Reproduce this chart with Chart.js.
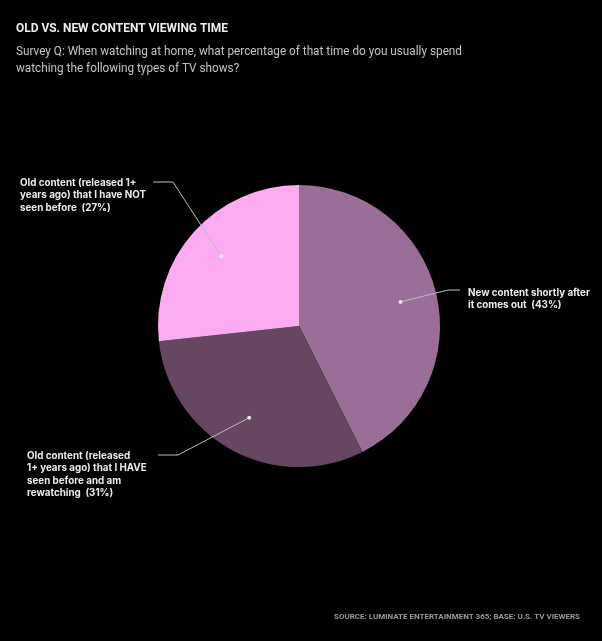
<!DOCTYPE html>
<html><head><meta charset="utf-8">
<script src="https://cdn.jsdelivr.net/npm/chart.js@4"></script>
<style>html,body{margin:0;padding:0;background:#000;}#wrap{position:relative;width:602px;height:641px;}</style>
</head><body><div id="wrap"><canvas id="c" width="602" height="641"></canvas></div>
<script>
const categories = [
  "New content shortly after it comes out",
  "Old content (released 1+ years ago) that I HAVE seen before and am rewatching",
  "Old content (released 1+ years ago) that I have NOT seen before"
];
const values = [43, 31, 27];
const labelLines = [
  ["New content shortly after", "it comes out  (43%)"],
  ["Old content (released", "1+ years ago) that I HAVE", "seen before and am", "rewatching  (31%)"],
  ["Old content (released 1+", "years ago) that I have NOT", "seen before  (27%)"]
];
const colors = ["#9a6e96", "#664660", "#fcaaf1"];
const title = "OLD VS. NEW CONTENT VIEWING TIME";
const subtitle = ["Survey Q: When watching at home, what percentage of that time do you usually spend", "watching the following types of TV shows?"];
const source = "SOURCE: LUMINATE ENTERTAINMENT 365; BASE: U.S. TV VIEWERS";

const labelLayout = [
  {elbow:[448,290], end:[460,290], tx:468, ty:293, align:'left'},
  {elbow:[178,455], end:[158,455], tx:27, ty:456, align:'left'},
  {elbow:[173,182], end:[153,182], tx:20, ty:183, align:'left'}
];

function fitText(ctx, text, x, y, font, targetW) {
  ctx.font = font;
  const w = ctx.measureText(text).width;
  ctx.save();
  ctx.translate(x, y);
  ctx.scale(targetW / w, 1);
  ctx.fillText(text, 0, 0);
  ctx.restore();
}

const textPlugin = {
  id: 'texts',
  afterDraw(chart) {
    const ctx = chart.ctx;
    ctx.save();
    ctx.textBaseline = 'middle';
    ctx.textAlign = 'left';
    ctx.fillStyle = '#ededed';
    fitText(ctx, title, 16, 29, 'bold 12.5px Roboto', 212);
    ctx.fillStyle = '#c4c4c4';
    fitText(ctx, subtitle[0], 16, 52, '12.5px Roboto', 446);
    ctx.font = '12.5px Roboto';
    const s0 = ctx.measureText(subtitle[0]).width;
    ctx.save();
    ctx.translate(16, 69);
    ctx.scale(446 / s0, 1);
    ctx.fillText(subtitle[1], 0, 0);
    ctx.restore();
    ctx.fillStyle = '#9a9a9a';
    fitText(ctx, source, 334, 617, 'bold 8px Roboto', 246);

    const meta = chart.getDatasetMeta(0);
    meta.data.forEach((arc, i) => {
      const mid = (arc.startAngle + arc.endAngle) / 2;
      const r = arc.outerRadius * 0.74;
      const dx = arc.x + Math.cos(mid) * r;
      const dy = arc.y + Math.sin(mid) * r;
      const L = labelLayout[i];
      ctx.strokeStyle = '#bdbdbd';
      ctx.lineWidth = 1;
      ctx.beginPath();
      ctx.moveTo(dx, dy);
      ctx.lineTo(L.elbow[0], L.elbow[1]);
      ctx.lineTo(L.end[0], L.end[1]);
      ctx.stroke();
      ctx.fillStyle = '#e6e6e6';
      ctx.beginPath();
      ctx.arc(dx, dy, 2, 0, Math.PI * 2);
      ctx.fill();
      ctx.fillStyle = '#eaeaea';
      ctx.font = 'bold 9.8px Inter';
      ctx.textAlign = L.align;
      labelLines[i].forEach((t, j) => ctx.fillText(t, L.tx, L.ty + j * 12.3));
    });
    ctx.restore();
  }
};

new Chart(document.getElementById('c'), {
  type: 'pie',
  data: {
    labels: categories,
    datasets: [{ data: values, backgroundColor: colors, borderWidth: 0 }]
  },
  options: {
    responsive: false,
    animation: false,
    devicePixelRatio: 1,
    layout: { padding: { left: 158, right: 162, top: 185, bottom: 174 } },
    plugins: { legend: { display: false }, tooltip: { enabled: false }, title: { display: false } }
  },
  plugins: [textPlugin]
});
</script></body></html>
